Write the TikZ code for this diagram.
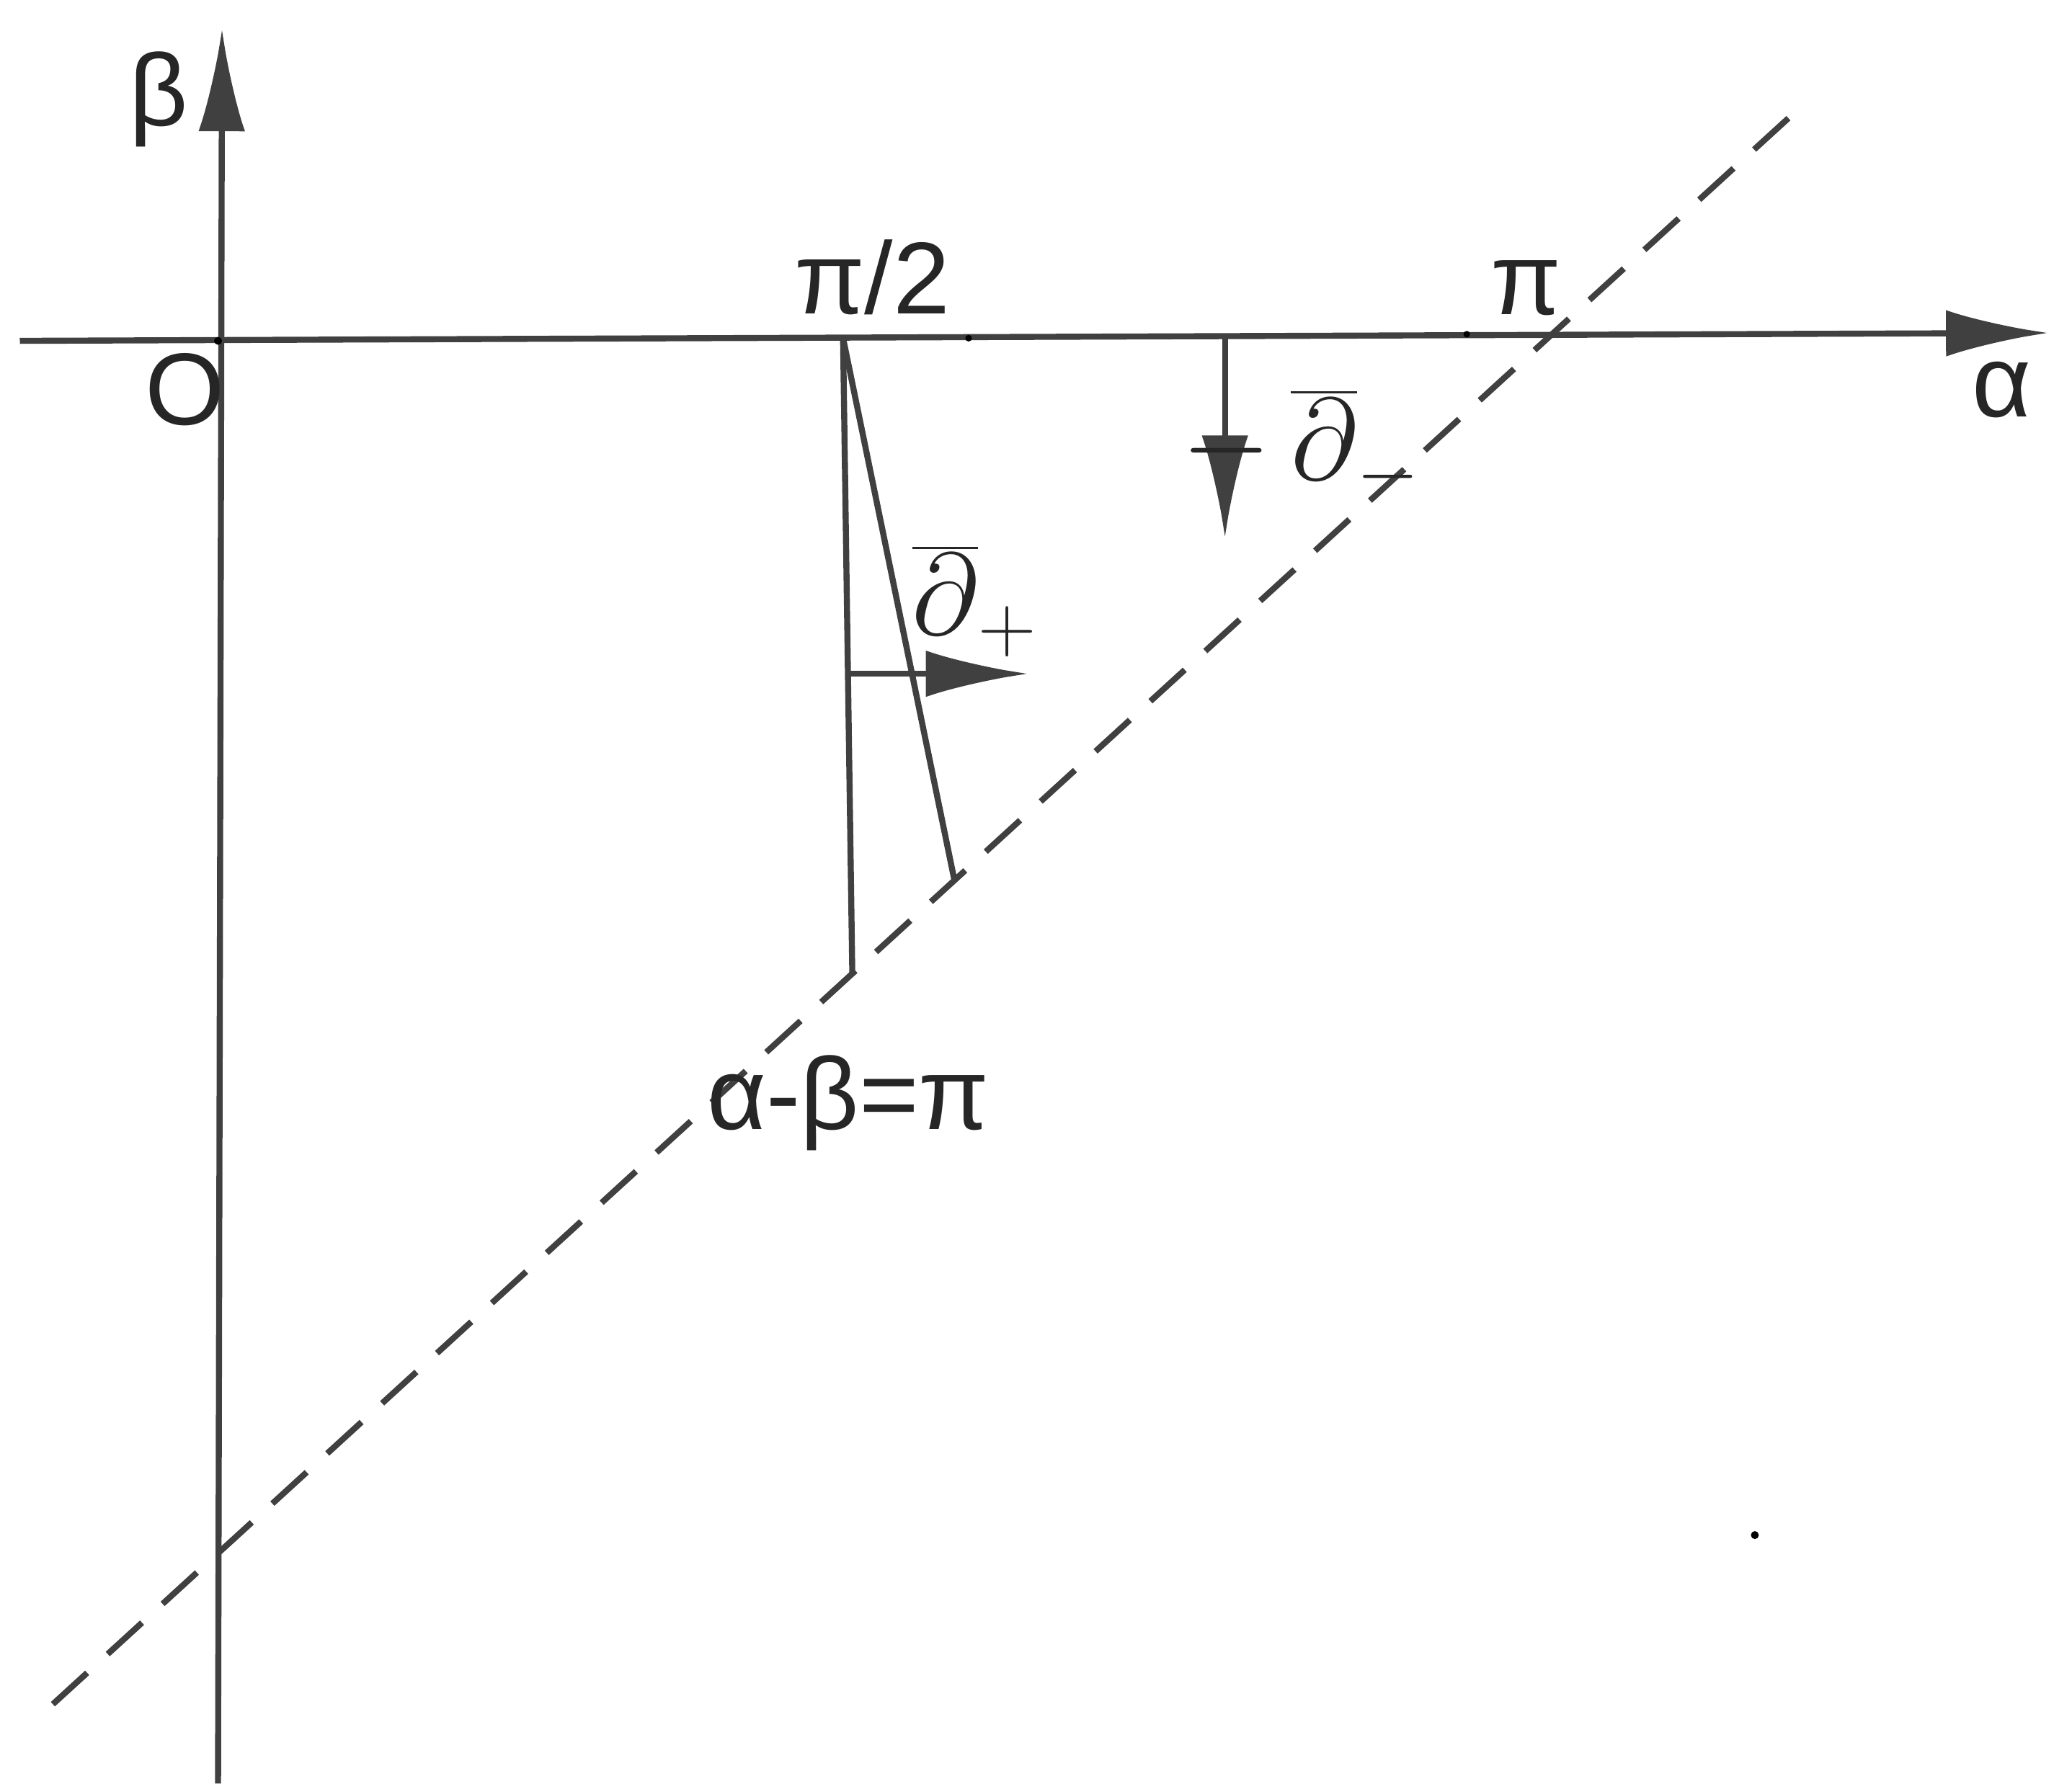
\documentclass[tikz,border=0pt]{standalone}
\usepackage{fontspec}
\setmainfont{Liberation Sans}
\usetikzlibrary{arrows.meta}
\begin{document}
\begin{tikzpicture}[x=0.01cm,y=-0.01cm,
  ln/.style={draw=black!75,line width=1.3pt},
  arr/.style={ln,-{Latex[length=22pt,width=10pt]}},
  lbl/.style={font=\fontsize{22}{26}\selectfont,text=black!85},
  mlbl/.style={font=\fontsize{26}{30}\selectfont,text=black!85}]
\useasboundingbox (0,0) rectangle (1568,1354);
\coordinate (xs) at (15,258); \coordinate (xe) at (1550,252);
\coordinate (ys) at (165,1350); \coordinate (ye) at (168,22);
\draw[arr] (xs) -- (xe);
\draw[arr] (ys) -- (ye);
\fill (165,258) circle (3);
\fill (733,256) circle (2.5);
\fill (1110,253) circle (2.5);
\fill (1328,1162) circle (3);
\coordinate (d1) at (40,1290); \coordinate (d2) at (1355,88);
\draw[ln,dashed,dash pattern=on 10pt off 6pt] (d1) -- (d2);
\coordinate (P) at (638,256);
\coordinate (V) at (645,738);
\coordinate (S) at (722,665);
\draw[ln] (P) -- (V);
\draw[ln] (P) -- (S);
\coordinate (a1) at (641,510); \coordinate (a2) at (778,510);
\draw[arr] (a1) -- (a2);
\coordinate (b1) at (927,256); \coordinate (b2) at (927,407);
\draw[arr] (b1) -- (b2);
\node[lbl] (lpi2) at (660,210) {π/2};
\node[lbl] (lpi) at (1155,218) {π};
\node[lbl] (lO) at (140,295) {O};
\node[lbl] (la) at (1515,295) {α};
\node[lbl] (lb) at (120,75) {β};
\node[lbl] (lab) at (642,835) {α-β=π};
\node[mlbl] (dp) at (738,455) {$\overline{\partial}_+$};
\node[mlbl] (dm) at (985,338) {$-\,\overline{\partial}_-$};
\end{tikzpicture}
\end{document}
